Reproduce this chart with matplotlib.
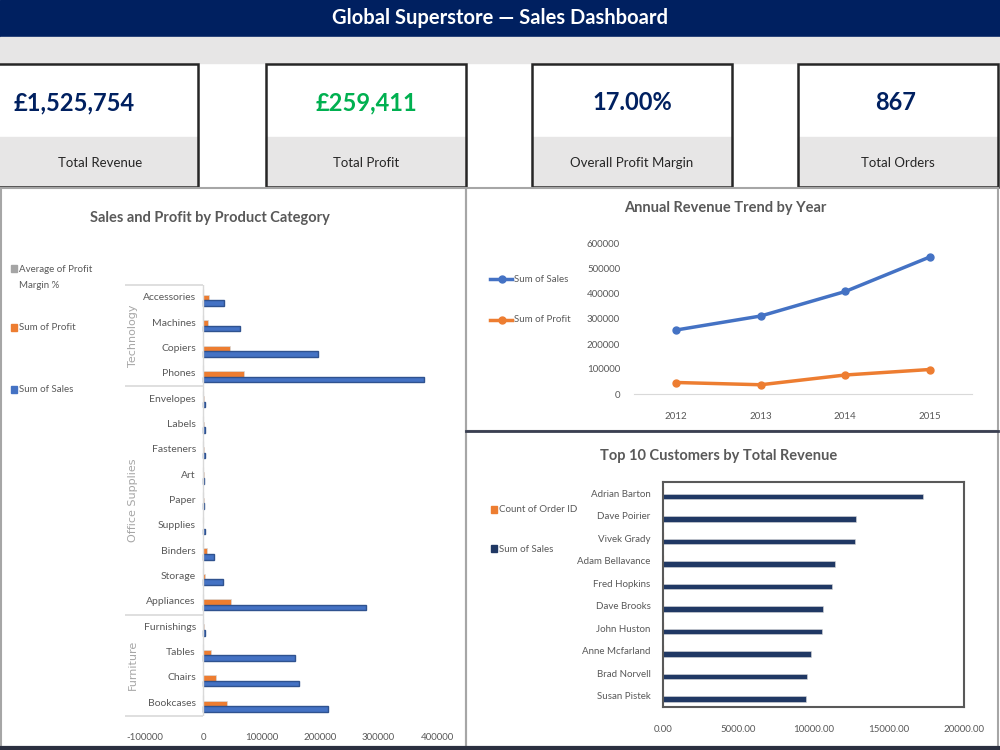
import numpy as np
import matplotlib
matplotlib.use('Agg')
import matplotlib.pyplot as plt
from matplotlib.patches import Rectangle

plt.rcParams['font.family'] = ['Lato', 'DejaVu Sans']
plt.rcParams['axes.unicode_minus'] = False

W, H = 1000, 750

# KPI cards
kpi_values = ['£1,525,754', '£259,411', '17.00%', '867']
kpi_labels = ['Total Revenue', 'Total Profit', 'Overall Profit Margin', 'Total Orders']
kpi_colors = ['#002060', '#00b050', '#002060', '#002060']

# Sales and profit by product sub-category (top to bottom)
groups = ['Technology', 'Office Supplies', 'Furniture']
group_sizes = [4, 9, 4]
sub_cats = ['Accessories', 'Machines', 'Copiers', 'Phones',
            'Envelopes', 'Labels', 'Fasteners', 'Art', 'Paper', 'Supplies',
            'Binders', 'Storage', 'Appliances',
            'Furnishings', 'Tables', 'Chairs', 'Bookcases']
cat_sales = [36000, 62000, 197000, 378000,
             2500, 2000, 2200, 1800, 1800, 3000, 18000, 33000, 278000,
             2200, 156000, 163000, 213000]
cat_profit = [9000, 8000, 45000, 69000,
              1000, 900, 800, 800, 900, -300, 6000, 3000, 47000,
              1000, 13000, 21000, 40000]
cat_margin = [25, 12, 23, 17, 22, 20, 18, 16, 21, -2, 15, 8, 17, 14, 9, 13, 19]

# Annual trend
years = ['2012', '2013', '2014', '2015']
year_sales = [256000, 312000, 410000, 548000]
year_profit = [46000, 37000, 76000, 98000]

# Top 10 customers
customers = ['Adrian Barton', 'Dave Poirier', 'Vivek Grady', 'Adam Bellavance',
             'Fred Hopkins', 'Dave Brooks', 'John Huston', 'Anne Mcfarland',
             'Brad Norvell', 'Susan Pistek']
cust_sales = [17280, 12830, 12770, 11450, 11250, 10660, 10570, 9860, 9550, 9480]
cust_orders = [8, 7, 6, 5, 6, 5, 6, 4, 5, 6]

BLUE = '#4472c4'
ORANGE = '#ed7d31'
GREY = '#a5a5a5'
NAVY = '#203864'
TXT = '#595959'

fig = plt.figure(figsize=(W / 100, H / 100), dpi=100)


def px_axes(x0, y0, x1, y1):
    return fig.add_axes([x0 / W, 1 - y1 / H, (x1 - x0) / W, (y1 - y0) / H])


# background layer in pixel coordinates
bg = px_axes(0, 0, W, H)
bg.set_xlim(0, W)
bg.set_ylim(H, 0)
bg.axis('off')

bg.add_patch(Rectangle((0, 0), W, 37, color='#002060'))
bg.text(500, 18, 'Global Superstore — Sales Dashboard', color='white',
        fontsize=14.5, fontweight='bold', ha='center', va='center')
bg.add_patch(Rectangle((0, 37), W, 26, color='#e7e6e6'))

card_x = [-2, 266, 532, 798]
num_x = [74, 366, 632, 896]
lab_x = [100, 366, 632, 898]
for cx, nx, lx, val, lab, col in zip(card_x, num_x, lab_x, kpi_values, kpi_labels, kpi_colors):
    bg.add_patch(Rectangle((cx, 137), 200, 50, color='#e7e6e6'))
    bg.add_patch(Rectangle((cx, 64), 200, 123, fill=False, edgecolor='#262626', lw=1.8))
    bg.text(nx, 103, val, color=col, fontsize=17, fontweight='bold', ha='center', va='center')
    bg.text(lx, 163, lab, color='#262626', fontsize=9.5, ha='center', va='center')

# panel borders
bg.add_patch(Rectangle((1, 188), 465, 559, fill=False, edgecolor='#a6a6a6', lw=1.5))
bg.add_patch(Rectangle((466, 188), 532, 243, fill=False, edgecolor='#a6a6a6', lw=1.5))
bg.add_patch(Rectangle((466, 431), 532, 316, fill=False, edgecolor='#a6a6a6', lw=1.5))
bg.plot([466, 998], [431, 431], color='#3a3f51', lw=2)
bg.plot([0, W], [748, 748], color='#2b3040', lw=3)

# chart titles
bg.text(210, 218, 'Sales and Profit by Product Category', color=TXT, fontsize=10.5,
        fontweight='bold', ha='center', va='center')
bg.text(725, 208, 'Annual Revenue Trend by Year', color=TXT, fontsize=10.5,
        fontweight='bold', ha='center', va='center')
bg.text(719, 456, 'Top 10 Customers by Total Revenue', color=TXT, fontsize=10.5,
        fontweight='bold', ha='center', va='center')

# legend: category chart
bg.add_patch(Rectangle((11, 265), 6, 7, color=GREY))
bg.text(19, 269, 'Average of Profit', color=TXT, fontsize=7, ha='left', va='center')
bg.text(19, 286, 'Margin %', color=TXT, fontsize=7, ha='left', va='center')
for y, col, lab in [(328, ORANGE, 'Sum of Profit'), (390, BLUE, 'Sum of Sales')]:
    bg.add_patch(Rectangle((11, y - 4), 6, 7, color=col))
    bg.text(19, y, lab, color=TXT, fontsize=7, ha='left', va='center')

# legend: trend chart
for y, col, lab in [(279, BLUE, 'Sum of Sales'), (320, ORANGE, 'Sum of Profit')]:
    bg.plot([490, 512], [y, y], color=col, lw=2.5)
    bg.plot([502], [y], marker='o', ms=5, color=col)
    bg.text(514, y, lab, color=TXT, fontsize=7, ha='left', va='center')

# legend: customers chart
for y, col, lab in [(510, ORANGE, 'Count of Order ID'), (549, NAVY, 'Sum of Sales')]:
    bg.add_patch(Rectangle((491, y - 4), 6, 7, color=col))
    bg.text(499, y, lab, color=TXT, fontsize=7, ha='left', va='center')

# ---- Sales and Profit by Product Category ----
ax1 = px_axes(145, 285, 437, 716)
ax1.set_facecolor('none')
ypos = np.arange(len(sub_cats))
ax1.barh(ypos - 0.22, cat_margin, height=0.22, color=GREY, edgecolor=GREY, lw=0.8)
ax1.barh(ypos, cat_profit, height=0.22, color=ORANGE, edgecolor='#d9d9d9', lw=0.5)
ax1.barh(ypos + 0.22, cat_sales, height=0.22, color=BLUE, edgecolor='#2f528f', lw=1)
ax1.set_xlim(-100000, 400000)
ax1.set_ylim(len(sub_cats) - 0.5, -0.5)
for s in ax1.spines.values():
    s.set_visible(False)
ax1.axvline(0, color='#d9d9d9', lw=1)
ax1.set_yticks([])
ax1.set_xticks([-100000, 0, 100000, 200000, 300000, 400000])
ax1.tick_params(axis='x', length=0, labelsize=7, labelcolor=TXT, pad=12)
for i, name in enumerate(sub_cats):
    ax1.text(-13000, i, name, ha='right', va='center', fontsize=7.5, color=TXT)
bounds = np.concatenate([[-0.5], np.cumsum(group_sizes) - 0.5])
ax1.hlines(bounds, -134000, 0, color='#d9d9d9', lw=1.2, clip_on=False)
for g, lo, hi in zip(groups, bounds[:-1], bounds[1:]):
    ax1.text(-120500, (lo + hi) / 2, g, rotation=90, ha='center', va='center',
             fontsize=8, color='#a6a6a6', family='DejaVu Sans')

# ---- Annual Revenue Trend by Year ----
ax2 = px_axes(634, 244, 972, 394)
ax2.set_facecolor('none')
xy = np.arange(len(years))
ax2.plot(xy, year_sales, color=BLUE, lw=2.5, marker='o', ms=5)
ax2.plot(xy, year_profit, color=ORANGE, lw=2.5, marker='o', ms=5)
ax2.set_xlim(-0.5, len(years) - 0.5)
ax2.set_ylim(0, 600000)
for k in ['top', 'right', 'left']:
    ax2.spines[k].set_visible(False)
ax2.spines['bottom'].set_color('#d9d9d9')
ax2.set_xticks(xy)
ax2.set_xticklabels(years)
ax2.set_yticks(np.arange(0, 600001, 100000))
ax2.tick_params(length=0, labelsize=7, labelcolor=TXT)
ax2.tick_params(axis='y', pad=10)
ax2.tick_params(axis='x', pad=13)

# ---- Top 10 Customers by Total Revenue ----
ax3 = px_axes(663, 482, 964, 707)
yc = np.arange(len(customers))
ax3.barh(yc - 0.14, cust_orders, height=0.24, color=ORANGE, edgecolor=ORANGE, lw=0.8)
ax3.barh(yc + 0.14, cust_sales, height=0.24, color=NAVY, edgecolor='#d9d9d9', lw=0.4)
ax3.set_xlim(0, 20000)
ax3.set_ylim(len(customers) - 0.5, -0.5)
for s in ax3.spines.values():
    s.set_color('#595959')
    s.set_linewidth(1.5)
ax3.set_yticks(yc)
ax3.set_yticklabels(customers)
ax3.set_xticks(np.arange(0, 20001, 5000))
ax3.set_xticklabels([f'{v:.2f}' for v in np.arange(0, 20001, 5000)])
ax3.tick_params(length=0, labelsize=7, labelcolor=TXT)
ax3.tick_params(axis='x', pad=13)
ax3.tick_params(axis='y', pad=9)

fig.savefig('out.png', dpi=100)
